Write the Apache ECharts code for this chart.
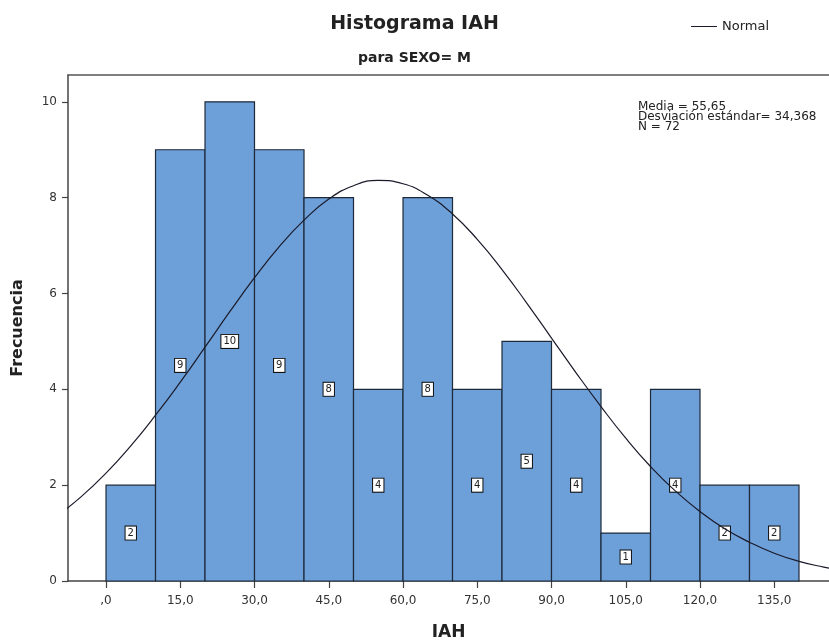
<!DOCTYPE html>
<html>
<head>
<meta charset="utf-8">
<script src="https://cdn.jsdelivr.net/npm/echarts@6/dist/echarts.min.js"></script>
<style>html,body{margin:0;padding:0;background:#fff}#c{width:829px;height:641px}</style>
</head>
<body>
<div id="c"></div>
<script>
// Histogram bins (IAH, width 10)
var binStarts = [0, 10, 20, 30, 40, 50, 60, 70, 80, 90, 100, 110, 120, 130];
var binCounts = [2, 9, 10, 9, 8, 4, 8, 4, 5, 4, 1, 4, 2, 2];
var binWidth = 10;

// Normal curve
var normalX = [-10, -5, 0, 5, 10, 15, 20, 25, 30, 35, 40, 45, 50, 55, 60, 65, 70, 75, 80, 85, 90, 95, 100, 105, 110, 115, 120, 125, 130, 135, 140, 145, 150];
var normalY = [1.35, 1.76, 2.25, 2.82, 3.46, 4.15, 4.88, 5.62, 6.33, 6.98, 7.53, 7.97, 8.25, 8.36, 8.29, 8.05, 7.66, 7.13, 6.50, 5.80, 5.07, 4.34, 3.64, 2.98, 2.39, 1.88, 1.45, 1.09, 0.81, 0.58, 0.41, 0.29, 0.19];

var xTicks = [0, 15, 30, 45, 60, 75, 90, 105, 120, 135];
var yTicks = [0, 2, 4, 6, 8, 10];

var statsLines = ['Media = 55,65', 'Desviación estándar= 34,368', 'N = 72'];

var FONT = '"DejaVu Sans", "Liberation Sans", sans-serif';

var histData = binStarts.map(function (s, i) { return [s, s + binWidth, binCounts[i]]; });
var normalData = normalX.map(function (x, i) { return [x, normalY[i]]; });

var chart = echarts.init(document.getElementById('c'), null, {renderer: 'canvas'});
chart.setOption({
  animation: false,
  backgroundColor: '#ffffff',
  title: [
    {text: 'Histograma IAH', left: 'center', top: 10,
     textStyle: {fontFamily: FONT, fontSize: 19, fontWeight: 'bold', color: '#222'}},
    {text: 'para SEXO= M', left: 'center', top: 46,
     textStyle: {fontFamily: FONT, fontSize: 14, fontWeight: 'bold', color: '#222'}}
  ],
  legend: {
    data: [{name: 'Normal', icon: 'rect'}],
    left: 686, top: 15,
    itemWidth: 26, itemHeight: 1, itemGap: 4,
    textStyle: {fontFamily: FONT, fontSize: 13, color: '#222'}
  },
  grid: {left: 68, top: 75, right: 0, bottom: 60, show: false, containLabel: false, outerBoundsMode: 'none'},
  xAxis: [{
    type: 'value', min: -7.68, max: 146.06,
    name: 'IAH', nameLocation: 'middle', nameGap: 43,
    nameTextStyle: {fontFamily: FONT, fontSize: 17, fontWeight: 'bold', color: '#222'},
    axisLine: {show: true, onZero: false, lineStyle: {color: '#444', width: 1.5}},
    axisTick: {show: true, length: 7, customValues: xTicks, lineStyle: {color: '#444', width: 1.2}},
    axisLabel: {customValues: xTicks, margin: 14, fontFamily: FONT, fontSize: 12, color: '#333',
      formatter: function (v) { return v === 0 ? ',0' : v.toFixed(1).replace('.', ','); }},
    splitLine: {show: false}
  }, {
    type: 'value', position: 'top', min: -7.68, max: 146.06,
    axisLine: {show: true, onZero: false, lineStyle: {color: '#555', width: 1.5}},
    axisTick: {show: false}, axisLabel: {show: false}, splitLine: {show: false}
  }],
  yAxis: {
    type: 'value', min: 0, max: 10.56,
    name: 'Frecuencia', nameLocation: 'middle', nameGap: 42, nameRotate: 90,
    nameTextStyle: {fontFamily: FONT, fontSize: 16, fontWeight: 'bold', color: '#222'},
    axisLine: {show: true, onZero: false, lineStyle: {color: '#444', width: 1.5}},
    axisTick: {show: true, length: 6, customValues: yTicks, lineStyle: {color: '#444', width: 1.2}},
    axisLabel: {customValues: yTicks, margin: 11, fontFamily: FONT, fontSize: 12, color: '#333'},
    splitLine: {show: false}
  },
  graphic: [{
    type: 'text', left: 638, top: 101,
    style: {text: statsLines.join('\n'), fontFamily: FONT, fontSize: 12, lineHeight: 10, fill: '#222'}
  }],
  series: [
    {
      type: 'custom', name: 'hist',
      renderItem: function (params, api) {
        var p0 = api.coord([api.value(0), api.value(2)]);
        var p1 = api.coord([api.value(1), 0]);
        var mid = api.coord([(api.value(0) + api.value(1)) / 2, api.value(2) / 2]);
        return {
          type: 'group',
          children: [
            {type: 'rect', shape: {x: p0[0], y: p0[1], width: p1[0] - p0[0], height: p1[1] - p0[1]},
             style: {fill: '#6d9fd8', stroke: '#1e2a3a', lineWidth: 1.2}},
            {type: 'text', x: mid[0], y: mid[1],
             style: {text: String(api.value(2)), fontFamily: FONT, fontSize: 10, fill: '#222',
               align: 'center', verticalAlign: 'middle',
               backgroundColor: '#fff', borderColor: '#111', borderWidth: 1, padding: [2, 2, 1, 2]}}
          ]
        };
      },
      encode: {x: [0, 1], y: 2},
      data: histData,
      z: 2
    },
    {
      type: 'line', name: 'Normal', data: normalData, smooth: true, showSymbol: false, symbol: 'none',
      lineStyle: {color: '#1a1a2a', width: 1.2}, itemStyle: {color: '#1a1a2a'}, clip: true, z: 3
    }
  ]
});
</script>
</body>
</html>
